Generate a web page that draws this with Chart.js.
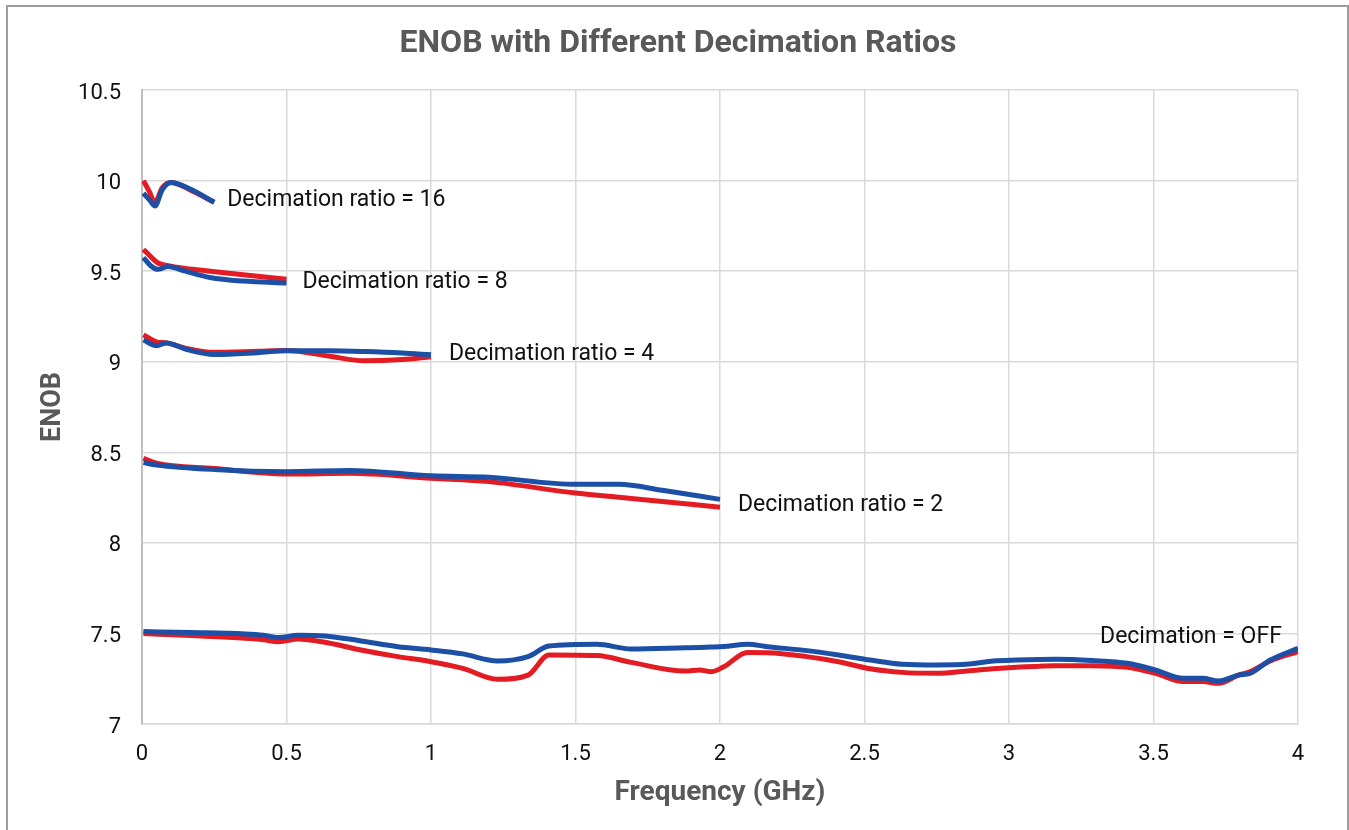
<!DOCTYPE html>
<html>
<head>
<meta charset="utf-8">
<title>ENOB with Different Decimation Ratios</title>
<script src="https://cdn.jsdelivr.net/npm/chart.js@4.4.1/dist/chart.umd.min.js"></script>
<style>
  html, body { margin: 0; padding: 0; background: #ffffff; }
  #wrap { position: relative; width: 1349px; height: 830px; overflow: hidden; }
  #frame {
    position: absolute; left: 6px; top: 5px; width: 1339px; height: 830px;
    border: 2px solid #9c9c9c; border-bottom: none; pointer-events: none;
  }
  canvas { position: absolute; left: 0; top: 0; }
</style>
</head>
<body>
<div id="wrap">
  <canvas id="chart" width="1349" height="830"></canvas>
  <div id="frame"></div>
</div>
<script>
// Frequency axis ticks (GHz) and ENOB axis ticks
const freqTicks = [0, 0.5, 1, 1.5, 2, 2.5, 3, 3.5, 4];
const enobTicks = [7, 7.5, 8, 8.5, 9, 9.5, 10, 10.5];

// Decimation ratio = 16
const dec16Freq = [0.005, 0.025, 0.045, 0.07, 0.1, 0.165, 0.25];
const dec16Red  = [10.00, 9.94, 9.88, 9.96, 9.99, 9.95, 9.88];
const dec16Blue = [9.93, 9.895, 9.86, 9.95, 9.99, 9.955, 9.88];

// Decimation ratio = 8
const dec8Freq = [0.005, 0.03, 0.055, 0.09, 0.15, 0.235, 0.35, 0.5];
const dec8Red  = [9.62, 9.58, 9.545, 9.53, 9.515, 9.50, 9.48, 9.455];
const dec8Blue = [9.575, 9.53, 9.51, 9.525, 9.50, 9.465, 9.445, 9.435];

// Decimation ratio = 4
const dec4Freq = [0.005, 0.05, 0.085, 0.15, 0.25, 0.4, 0.5, 0.65, 0.77, 0.9, 1.0];
const dec4Red  = [9.148, 9.11, 9.104, 9.075, 9.052, 9.058, 9.062, 9.03, 9.005, 9.012, 9.028];
const dec4Blue = [9.12, 9.088, 9.104, 9.07, 9.04, 9.05, 9.06, 9.06, 9.056, 9.048, 9.038];

// Decimation ratio = 2
const dec2Freq = [0.005, 0.05, 0.25, 0.5, 0.72, 1.0, 1.2, 1.5, 1.65, 1.8, 2.0];
const dec2Red  = [8.467, 8.44, 8.41, 8.38, 8.384, 8.357, 8.338, 8.275, 8.252, 8.228, 8.197];
const dec2Blue = [8.443, 8.43, 8.405, 8.393, 8.40, 8.37, 8.362, 8.323, 8.323, 8.29, 8.24];

// Decimation off
const decOffFreq = [0.005, 0.17, 0.356, 0.42, 0.475, 0.54, 0.633, 0.753, 0.885, 1.0,
  1.11, 1.23, 1.336, 1.408, 1.574, 1.693, 1.879, 1.93, 1.97, 2.013,
  2.095, 2.164, 2.3, 2.41, 2.52, 2.63, 2.75, 2.862, 2.945, 3.027,
  3.163, 3.287, 3.41, 3.506, 3.603, 3.67, 3.725, 3.794, 3.835, 3.904, 4.0];
const decOffRed = [7.50, 7.488, 7.473, 7.465, 7.454, 7.469, 7.451, 7.41, 7.372, 7.344,
  7.307, 7.247, 7.27, 7.381, 7.378, 7.34, 7.292, 7.298, 7.289, 7.316,
  7.395, 7.394, 7.372, 7.344, 7.305, 7.285, 7.28, 7.294, 7.305, 7.313,
  7.322, 7.322, 7.313, 7.28, 7.234, 7.234, 7.225, 7.27, 7.289, 7.348, 7.40];
const decOffBlue = [7.51, 7.505, 7.497, 7.49, 7.477, 7.49, 7.486, 7.46, 7.427, 7.409,
  7.387, 7.348, 7.372, 7.43, 7.44, 7.414, 7.421, 7.423, 7.425, 7.428,
  7.44, 7.427, 7.405, 7.381, 7.353, 7.33, 7.326, 7.331, 7.348, 7.353,
  7.357, 7.35, 7.335, 7.298, 7.252, 7.252, 7.237, 7.27, 7.28, 7.353, 7.418];

// Curve captions
const captionTexts = ['Decimation ratio = 16', 'Decimation ratio = 8', 'Decimation ratio = 4',
  'Decimation ratio = 2', 'Decimation = OFF'];

const chartTitle = 'ENOB with Different Decimation Ratios';

const RED = '#e31b23';
const BLUE = '#1c4fa6';

function pts(xs, ys) { return xs.map((x, i) => ({ x: x, y: ys[i] })); }

function series(label, xs, ys, color) {
  return {
    label: label,
    data: pts(xs, ys),
    borderColor: color,
    backgroundColor: color,
    borderWidth: 5,
    pointRadius: 0,
    fill: false,
    cubicInterpolationMode: 'monotone',
    borderCapStyle: 'butt',
    borderJoinStyle: 'round'
  };
}

// Earlier datasets are painted on top, so the blue traces come first.
const datasets = [
  series('16 B', dec16Freq, dec16Blue, BLUE),
  series('8 B', dec8Freq, dec8Blue, BLUE),
  series('4 B', dec4Freq, dec4Blue, BLUE),
  series('2 B', dec2Freq, dec2Blue, BLUE),
  series('OFF B', decOffFreq, decOffBlue, BLUE),
  series('16 A', dec16Freq, dec16Red, RED),
  series('8 A', dec8Freq, dec8Red, RED),
  series('4 A', dec4Freq, dec4Red, RED),
  series('2 A', dec2Freq, dec2Red, RED),
  series('OFF A', decOffFreq, decOffRed, RED)
];

// Caption anchors in data units (left edge, vertical middle)
const captionPlacement = [
  { x: 0.295, y: 9.89 },
  { x: 0.555, y: 9.436 },
  { x: 1.062, y: 9.043 },
  { x: 2.062, y: 8.21 },
  { x: 3.315, y: 7.478 }
];

const captionPlugin = {
  id: 'captions',
  afterDatasetsDraw(chart) {
    const { ctx, scales } = chart;
    ctx.save();
    ctx.font = '23px Roboto';
    ctx.fillStyle = '#111111';
    ctx.textAlign = 'left';
    ctx.textBaseline = 'middle';
    captionTexts.forEach((t, i) => {
      const p = captionPlacement[i];
      ctx.fillText(t, scales.x.getPixelForValue(p.x), scales.y.getPixelForValue(p.y));
    });
    ctx.restore();
  }
};

// Heading drawn over the whole frame width
const headingPlugin = {
  id: 'heading',
  afterDraw(chart) {
    const { ctx } = chart;
    ctx.save();
    ctx.font = 'bold 32px Roboto';
    ctx.fillStyle = '#595959';
    ctx.textAlign = 'center';
    ctx.textBaseline = 'middle';
    ctx.fillText(chartTitle, 678, 44);
    ctx.restore();
  }
};

new Chart(document.getElementById('chart'), {
  type: 'line',
  data: { datasets: datasets },
  plugins: [captionPlugin, headingPlugin],
  options: {
    responsive: false,
    animation: false,
    layout: { padding: { left: 0, right: 51, top: 90, bottom: 0 } },
    plugins: {
      legend: { display: false },
      tooltip: { enabled: false },
      title: { display: false }
    },
    scales: {
      x: {
        type: 'linear',
        min: 0, max: 4,
        afterBuildTicks(scale) { scale.ticks = freqTicks.map(v => ({ value: v })); },
        afterFit(scale) { scale.height = 106; },
        grid: { color: '#d9d9d9', lineWidth: 1.5, drawTicks: false },
        border: { color: '#d9d9d9', width: 1.5 },
        ticks: {
          color: '#111111',
          font: { family: 'Roboto', size: 22 },
          padding: 17,
          maxRotation: 0,
          callback: v => String(v)
        },
        title: {
          display: true,
          text: 'Frequency (GHz)',
          color: '#595959',
          font: { family: 'Roboto', size: 28, weight: 'bold' },
          padding: { top: 0, bottom: 20 }
        }
      },
      y: {
        type: 'linear',
        min: 7, max: 10.5,
        afterBuildTicks(scale) { scale.ticks = enobTicks.map(v => ({ value: v })); },
        afterFit(scale) { scale.width = 142; },
        grid: { color: '#d9d9d9', lineWidth: 1.5, drawTicks: false },
        border: { color: '#bfbfbf', width: 2 },
        ticks: {
          color: '#111111',
          font: { family: 'Roboto', size: 22 },
          padding: 21,
          labelOffset: 3,
          callback: v => String(v)
        },
        title: {
          display: true,
          text: 'ENOB',
          color: '#595959',
          font: { family: 'Roboto', size: 27, weight: 'bold' },
          padding: { top: 37, bottom: 0 }
        }
      }
    }
  }
});
</script>
</body>
</html>
